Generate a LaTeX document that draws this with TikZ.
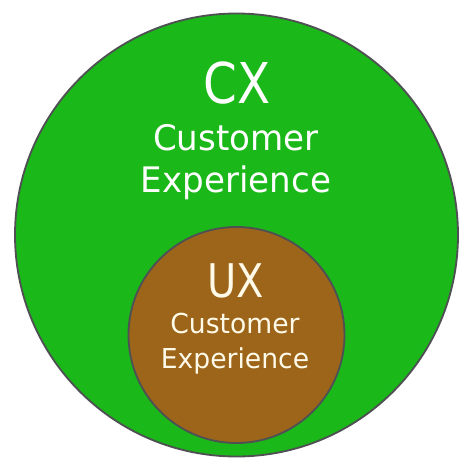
\documentclass[tikz,border=0pt]{standalone}
\usepackage{fontspec}
\setmainfont{DejaVu Sans}[FakeStretch=0.86]
\newfontfamily\widefont{DejaVu Sans}[FakeStretch=0.97]
\definecolor{cxgreen}{RGB}{26,184,24}
\definecolor{uxbrown}{RGB}{156,101,26}
\definecolor{rimgray}{RGB}{78,80,84}
\definecolor{uxtext}{RGB}{255,250,232}
\tikzset{
  ring/.style={circle, draw=rimgray, line width=1.3pt, inner sep=0pt},
  label text/.style={anchor=base, inner sep=0pt}
}

\begin{document}
\begin{tikzpicture}[x=0.025cm, y=-0.025cm]
    \useasboundingbox [fill=white] (0, 0) rectangle (474, 474);
    \node [ring, fill=cxgreen, minimum size=443*0.025cm] (cx) at (236.5, 235) {};
    \node [ring, fill=uxbrown, minimum size=216*0.025cm] (ux) at (236.5, 335) {};
    % outer texts
    \node [label text, text=white, font=\fontsize{40}{40}\selectfont] (cxTitle) at (237, 103) {CX};
    \node [label text, text=white, font=\widefont\fontsize{25}{25}\selectfont] (cxLineA) at (236, 150) {Customer};
    \node [label text, text=white, font=\widefont\fontsize{25}{25}\selectfont] (cxLineB) at (236, 192) {Experience};
    % inner texts
    \node [label text, text=uxtext, font=\fontsize{33}{33}\selectfont] (uxTitle) at (236, 297) {UX};
    \node [label text, text=uxtext, font=\widefont\fontsize{19.5}{20}\selectfont] (uxLineA) at (235, 333) {Customer};
    \node [label text, text=uxtext, font=\widefont\fontsize{19.5}{20}\selectfont] (uxLineB) at (235, 368) {Experience};
\end{tikzpicture}
\end{document}
